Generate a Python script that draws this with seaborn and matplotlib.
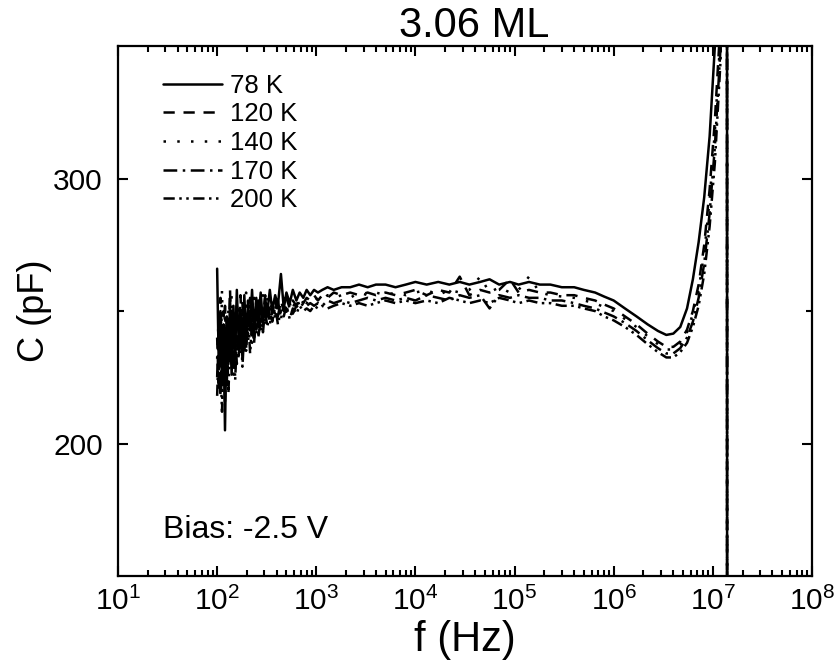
import matplotlib
matplotlib.use("Agg")
import matplotlib.pyplot as plt
import matplotlib.ticker as mticker
import numpy as np
import pandas as pd
import seaborn as sns

# frequency grid (Hz), shared by all temperatures
freq = [100, 104, 108, 112, 116, 120, 125, 130, 135, 140, 146, 152, 158, 165, 172,
        180, 188, 196, 205, 215, 225, 236, 248, 260, 275, 290, 305, 320, 340, 360,
        385, 410, 440, 470, 500, 540, 580, 630, 680, 740, 800, 870, 950,
        1040, 1150, 1300, 1500, 1800, 2200, 2700, 3300, 4000, 5000,
        6300, 8000, 1.0e4, 1.3e4, 1.7e4, 2.2e4, 2.8e4, 3.5e4, 4.5e4, 5.6e4,
        7e4, 9e4, 1.1e5, 1.4e5, 1.8e5, 2.3e5, 3e5, 4e5, 5e5, 6.5e5, 8e5, 1e6,
        1.3e6, 1.7e6, 2.2e6, 2.8e6, 3.4e6, 4e6, 4.7e6, 5.5e6, 6.3e6, 7.2e6,
        8.2e6, 9.3e6, 1.05e7, 1.2e7, 1.39e7, 1.4e7]

temps = ["78 K", "120 K", "140 K", "170 K", "200 K"]
xticks = [1e1, 1e2, 1e3, 1e4, 1e5, 1e6, 1e7, 1e8]
yticks = [200, 300]

# capacitance (pF)
c_78 = [266, 228, 250, 222, 245, 205, 248, 230, 255, 226, 252, 235, 258, 238, 250,
        232, 256, 240, 252, 243, 258, 242, 255, 246, 257, 245, 255, 249, 258, 250,
        256, 252, 264, 251, 257, 253, 258, 254, 257, 255, 258, 256, 258,
        257, 258, 259, 258, 259, 259, 260, 259, 260, 260,
        259, 260, 261, 260, 261, 260, 261, 260, 261, 262,
        260, 261, 260, 261, 260, 260, 259, 259, 258, 257, 255.5, 254,
        251, 248, 245, 242.5, 241, 241.5, 244, 251, 262, 276,
        293, 316, 350, 420, 700, -400]
c_120 = [240, 220, 255, 230, 250, 215, 245, 236, 258, 228, 248, 232, 252, 236, 256,
         238, 250, 236, 254, 242, 250, 240, 254, 244, 252, 247, 256, 246, 253, 249,
         255, 248, 254, 250, 255, 251, 254, 252, 255, 253, 255, 254, 256,
         254, 256, 255, 257, 256, 257, 256, 257, 256, 257,
         256, 257, 258, 256, 258, 257, 263, 256, 258, 257,
         258, 262, 257, 258, 257, 257, 256, 256, 255, 254, 252.5, 251,
         248, 245, 241.5, 238.5, 236.5, 236.5, 238.5, 243, 250, 260,
         275, 296, 322, 360, 700, -400]
c_140 = [232, 250, 226, 258, 221, 244, 228, 251, 233, 256, 230, 247, 237, 253, 234,
         249, 240, 257, 238, 251, 243, 255, 241, 252, 246, 256, 245, 252, 248, 255,
         247, 253, 250, 255, 249, 254, 251, 255, 252, 254, 253, 255, 254,
         255, 254, 256, 255, 256, 255, 257, 256, 257, 256,
         257, 256, 257, 258, 256, 258, 257, 258, 263, 257,
         259, 257, 258, 263, 257, 256, 255.5, 255, 254, 253, 251.5, 250,
         247, 244, 240.5, 237.5, 235.5, 235.5, 237.5, 242, 249, 258,
         272, 292, 318, 355, 700, -400]
c_170 = [225, 245, 218, 240, 228, 252, 222, 244, 231, 250, 226, 242, 230, 248, 236,
         253, 234, 246, 240, 255, 238, 249, 243, 254, 242, 250, 246, 255, 245, 251,
         249, 254, 247, 252, 250, 253, 249, 252, 251, 253, 252, 253, 252,
         253, 252, 254, 253, 254, 253, 254, 255, 254, 255,
         254, 255, 254, 256, 255, 254, 256, 255, 256, 251,
         256, 255, 256, 255, 255, 254, 254, 253, 252, 251, 249.5, 248,
         245.5, 242.5, 239, 236, 234, 234, 236, 240, 246, 255,
         268, 287, 312, 350, 700, -400]
c_200 = [218, 238, 230, 212, 236, 224, 242, 219, 238, 230, 246, 224, 240, 232, 247,
         229, 243, 235, 249, 234, 245, 238, 250, 240, 247, 242, 251, 244, 249, 246,
         252, 245, 250, 248, 252, 247, 251, 249, 252, 250, 251, 250, 252,
         251, 252, 251, 252, 253, 252, 253, 252, 253, 254,
         253, 254, 253, 254, 253, 255, 254, 253, 254, 253,
         255, 254, 253, 254, 253, 253, 252, 252, 251, 250, 248, 246.5,
         244, 241, 237.5, 234.5, 232.5, 232.5, 234.5, 238, 244, 252,
         264, 282, 306, 345, 700, -400]

series = [c_78, c_120, c_140, c_170, c_200]
df = pd.concat([pd.DataFrame({"f": freq, "C": c, "T": t}) for t, c in zip(temps, series)],
               ignore_index=True)

dash_map = {"78 K": "", "120 K": (4.5, 3.5), "140 K": (1, 4.5),
            "170 K": (5.5, 2.2, 1, 2.2), "200 K": (4.5, 1.8, 1, 1.8, 1, 1.8)}

sns.set_style("ticks")
plt.rcParams["font.family"] = ["Liberation Sans", "DejaVu Sans"]
plt.rcParams["mathtext.fontset"] = "custom"
plt.rcParams["mathtext.rm"] = "Liberation Sans"
for key in ["text.color", "axes.labelcolor", "xtick.color", "ytick.color", "axes.edgecolor"]:
    plt.rcParams[key] = "black"

fig = plt.figure(figsize=(8.37, 6.64), dpi=100)
ax = fig.add_axes([0.141, 0.1325, 0.829, 0.798])

sns.lineplot(data=df, x="f", y="C", style="T", style_order=temps, dashes=dash_map,
             color="black", lw=1.8, estimator=None, sort=False, ax=ax)

ax.set_xscale("log")
ax.set_xlim(10, 1e8)
ax.set_ylim(150, 350)
ax.xaxis.set_major_locator(mticker.FixedLocator(xticks))
ax.xaxis.set_major_formatter(mticker.LogFormatterSciNotation())
ax.xaxis.set_minor_locator(mticker.LogLocator(base=10, subs=np.arange(2, 10), numticks=100))
ax.xaxis.set_minor_formatter(mticker.NullFormatter())
ax.yaxis.set_major_locator(mticker.FixedLocator(yticks))
ax.yaxis.set_minor_locator(mticker.FixedLocator([250]))

ax.tick_params(which="both", direction="in", top=True, right=True, width=1.5)
ax.tick_params(which="major", length=7.5, labelsize=21.5)
ax.tick_params(which="minor", length=4)
ax.tick_params(axis="y", pad=11)
ax.tick_params(axis="x", pad=8)
for sp in ax.spines.values():
    sp.set_linewidth(1.6)

ax.set_xlabel("f (Hz)", fontsize=30, labelpad=3)
ax.set_ylabel("C (pF)", fontsize=26, labelpad=1)
ax.set_title("3.06 ML", fontsize=30, pad=-3, x=0.514)

handles, labels = ax.get_legend_handles_labels()
ax.legend(handles, labels, loc="upper left", bbox_to_anchor=(0.065, 0.948),
          frameon=False, fontsize=18.5, handlelength=2.3, handletextpad=0.3,
          labelspacing=0.18, borderpad=0, borderaxespad=0)

ax.text(0.065, 0.087, "Bias: -2.5 V", transform=ax.transAxes,
        fontsize=23, va="center", ha="left")

fig.savefig("out.png", dpi=100)
